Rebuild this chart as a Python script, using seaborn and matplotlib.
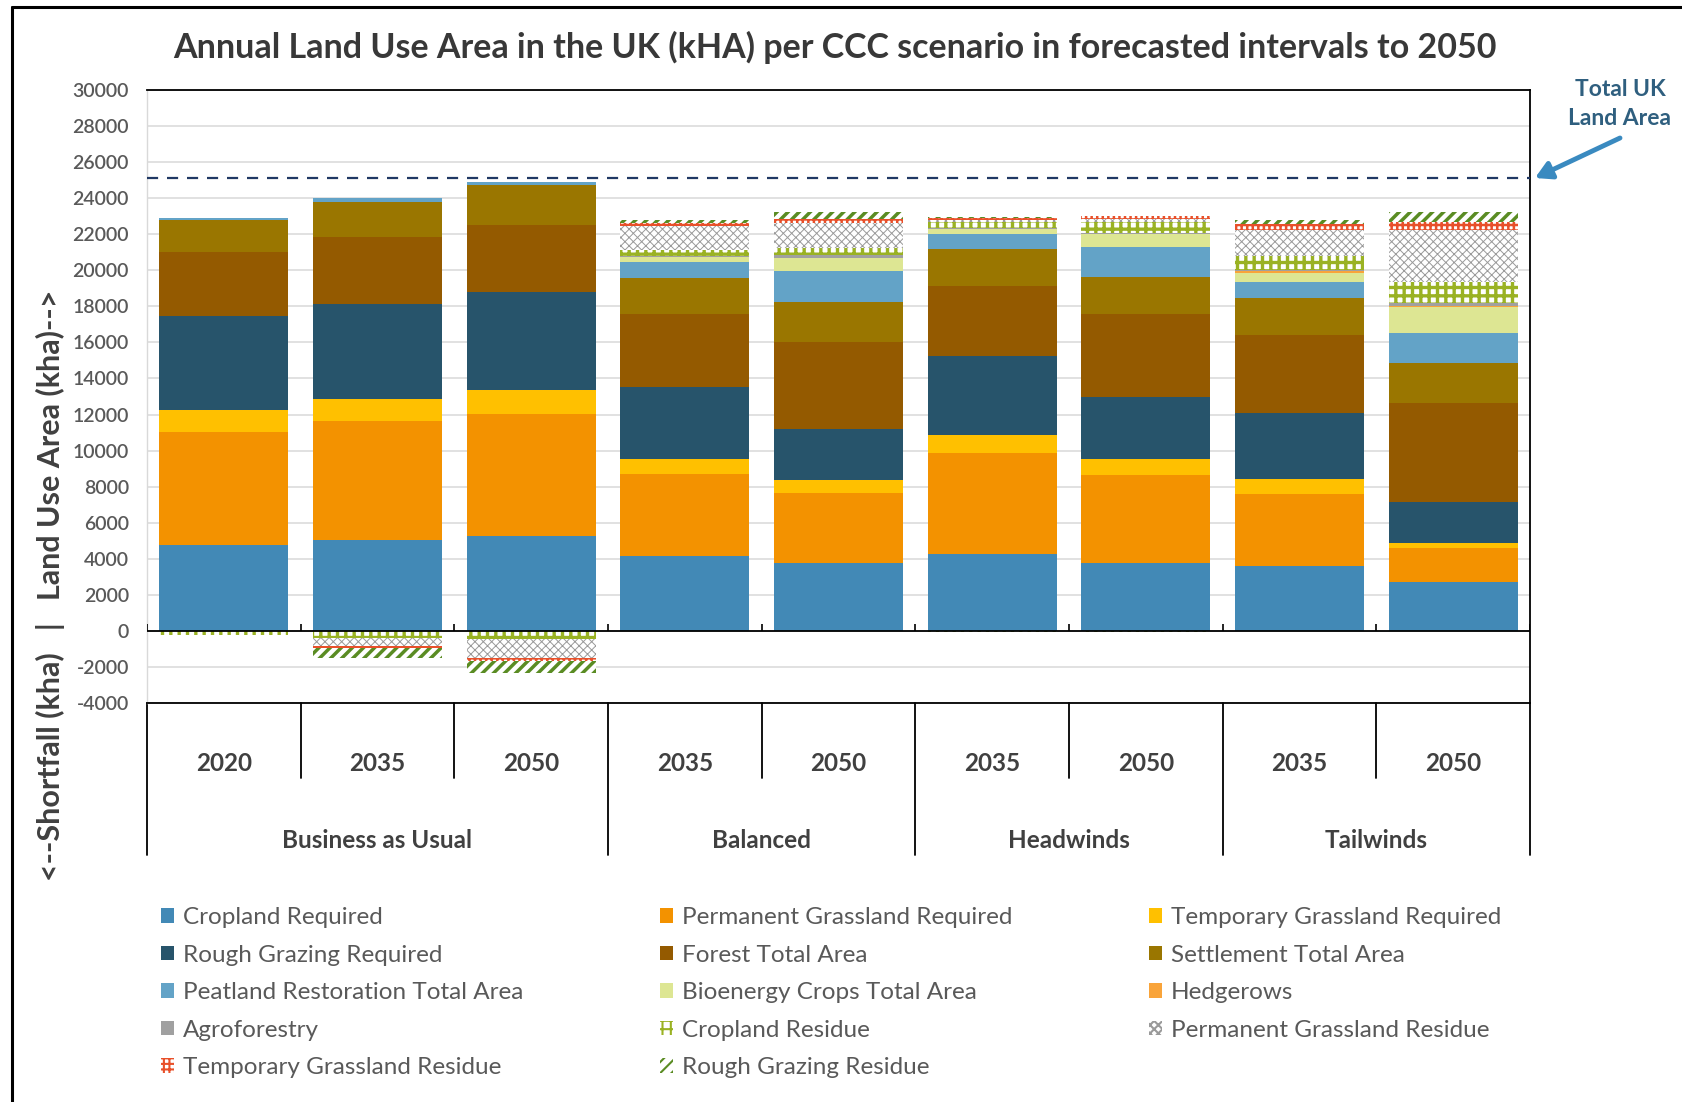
import numpy as np
import pandas as pd
import matplotlib
matplotlib.use("Agg")
import matplotlib.pyplot as plt
import seaborn as sns
from matplotlib.patches import Patch
from matplotlib.lines import Line2D
from matplotlib.transforms import blended_transform_factory

# ---------------- data ----------------
groups = ["Business as Usual"] * 3 + ["Balanced"] * 2 + ["Headwinds"] * 2 + ["Tailwinds"] * 2
years = ["2020", "2035", "2050", "2035", "2050", "2035", "2050", "2035", "2050"]

cropland_required = [4750, 5050, 5250, 4150, 3750, 4250, 3750, 3600, 2700]
perm_grassland_required = [6300, 6600, 6800, 4550, 3900, 5600, 4900, 4000, 1900]
temp_grassland_required = [1200, 1200, 1300, 850, 700, 1000, 900, 800, 300]
rough_grazing_required = [5200, 5300, 5450, 3950, 2850, 4400, 3400, 3700, 2250]
forest_total = [3550, 3700, 3700, 4050, 4800, 3900, 4600, 4300, 5500]
settlement_total = [1800, 1950, 2250, 2000, 2250, 2050, 2100, 2050, 2200]
peatland_restoration = [100, 230, 120, 930, 1700, 800, 1620, 910, 1670]
bioenergy_crops = [0, 0, 0, 260, 710, 280, 730, 500, 1420]
hedgerows = [0, 0, 0, 0, 0, 0, 0, 90, 90]
agroforestry = [0, 0, 0, 40, 180, 90, 90, 40, 180]
cropland_residue = [-240, -370, -460, 350, 370, 330, 610, 830, 1150]
perm_grassland_residue = [0, -460, -1050, 1300, 1390, 80, 150, 1430, 2870]
temp_grassland_residue = [0, -130, -150, 180, 240, 100, 180, 330, 460]
rough_grazing_residue = [0, -520, -700, 190, 380, 60, 0, 220, 530]
cropland_residue_shortfall_extra = [0, 0, 0, 0, 0, -60, -80, 0, 0]

total_uk_land_area = 25100

y_ticks = list(range(-4000, 30001, 2000))

# ---------------- style ----------------
sns.set_theme(style="white")
plt.rcParams["font.family"] = ["Lato", "DejaVu Sans"]
plt.rcParams["hatch.linewidth"] = 1.5

series = [
    ("Cropland Required", cropland_required, "#4289b6", None, None, 0),
    ("Permanent Grassland Required", perm_grassland_required, "#f39200", None, None, 0),
    ("Temporary Grassland Required", temp_grassland_required, "#ffc000", None, None, 0),
    ("Rough Grazing Required", rough_grazing_required, "#27546b", None, None, 0),
    ("Forest Total Area", forest_total, "#945a00", None, None, 0),
    ("Settlement Total Area", settlement_total, "#9a7600", None, None, 0),
    ("Peatland Restoration Total Area", peatland_restoration, "#63a3c7", None, None, 0),
    ("Bioenergy Crops Total Area", bioenergy_crops, "#dde693", None, None, 0),
    ("Hedgerows", hedgerows, "#f9a43a", None, None, 0),
    ("Agroforestry", agroforestry, "#a0a0a0", None, None, 0),
    ("Cropland Residue", cropland_residue, "white", "++", "#9ab223", 2.4),
    ("Permanent Grassland Residue", perm_grassland_residue, "white", "xxxx", "#9a9a9a", 0.7),
    ("Temporary Grassland Residue", temp_grassland_residue, "white", "+++", "#e8502a", 1.8),
    ("Rough Grazing Residue", rough_grazing_residue, "white", "///", "#5a8c23", 2.5),
]

keys = [f"{g} {y}" for g, y in zip(groups, years)]
n = len(keys)

fig = plt.figure(figsize=(16.83, 11.02), dpi=100)
ax = fig.add_axes([147 / 1683, 1 - 703 / 1102, (1530 - 147) / 1683, (703 - 90) / 1102])

# positive stack and negative stack cumulative values
vals = np.array([s[1] for s in series], dtype=float)
extra = np.array(cropland_residue_shortfall_extra, dtype=float)
pos = np.clip(vals, 0, None)
neg = np.clip(vals, None, 0)
neg[10] = neg[10] + extra
cum_pos = np.cumsum(pos, axis=0)
cum_neg = np.cumsum(neg, axis=0)


def draw(values, spec):
    name, _, color, hatch, hcolor, hlw = spec
    df = pd.DataFrame({"cat": keys, "val": values})
    before = len(ax.patches)
    kw = dict(data=df, x="cat", y="val", order=keys, color=color, saturation=1,
              width=0.84, errorbar=None, ax=ax, linewidth=0)
    if hatch:
        with plt.rc_context({"hatch.linewidth": hlw}):
            sns.barplot(**kw, hatch=hatch, edgecolor=hcolor)
    else:
        sns.barplot(**kw, edgecolor=color)
    if hatch:
        for p in ax.patches[before:]:
            if hasattr(p, "set_hatch_linewidth"):
                p.set_hatch_linewidth(hlw)


for k in reversed(range(len(series))):
    draw(cum_pos[k], series[k])
for k in reversed(range(len(series))):
    if np.any(cum_neg[k] != 0):
        draw(cum_neg[k], series[k])

# ---------------- axes styling ----------------
ax.set_xlim(-0.5, n - 0.5)
ax.set_ylim(-4000, 30000)
ax.set_yticks(y_ticks)
ax.set_yticklabels([str(t) for t in y_ticks], color="#595959", fontsize=14, fontweight="semibold")
ax.tick_params(axis="y", length=0, pad=13)
ax.set_xticks([])
ax.set_xlabel("")
ax.set_ylabel("")
ax.grid(axis="y", color="#d9d9d9", lw=1.1, zorder=0)
ax.set_axisbelow(True)
for s in ["top", "right", "bottom"]:
    ax.spines[s].set_color("black")
    ax.spines[s].set_linewidth(1.3)
ax.spines["left"].set_color("#d9d9d9")
ax.spines["left"].set_linewidth(1.0)

ax.axhline(0, color="black", lw=1.3, zorder=5)
ax.vlines(np.arange(-0.5, n, 1.0), 0, 380, color="black", lw=1.2, zorder=5)
ax.axhline(total_uk_land_area, color="#203864", lw=1.6, ls=(0, (5, 4)), zorder=6)

# multi-level category axis
tr = blended_transform_factory(ax.transData, ax.transAxes)
group_bounds = [-0.5, 2.5, 4.5, 6.5, 8.5]
inner_bounds = [0.5, 1.5, 3.5, 5.5, 7.5]
for b in group_bounds:
    ax.add_line(Line2D([b, b], [0, -0.248], transform=tr, color="black", lw=1.3, clip_on=False))
for b in inner_bounds:
    ax.add_line(Line2D([b, b], [0, -0.1223], transform=tr, color="black", lw=1.3, clip_on=False))
for i, y in enumerate(years):
    ax.text(i, -0.099, y, transform=tr, ha="center", va="center", fontsize=17.5,
            fontweight="bold", color="#404040")
group_names = ["Business as Usual", "Balanced", "Headwinds", "Tailwinds"]
for gi, gname in enumerate(group_names):
    c = (group_bounds[gi] + group_bounds[gi + 1]) / 2
    ax.text(c, -0.224, gname, transform=tr, ha="center", va="center", fontsize=17.5,
            fontweight="bold", color="#404040")

# ---------------- texts ----------------
fig.text(835 / 1683, 1 - 47 / 1102,
         "Annual Land Use Area in the UK (kHA) per CCC scenario in forecasted intervals to 2050",
         ha="center", va="center", fontsize=24.5, fontweight="bold", color="#383838")
fig.text(50 / 1683, 1 - 585 / 1102,
         "<--Shortfall (kha)   |   Land Use Area (kha)-->",
         rotation=90, ha="center", va="center", fontsize=22, fontweight="bold", color="#404040")
fig.text(1620 / 1683, 1 - 104 / 1102, "Total UK\nLand Area", ha="center", va="center",
         fontsize=16.5, fontweight="bold", color="#2f5f7f", linespacing=1.5)
ax.annotate("", xy=(1535 / 1683, 1 - 178 / 1102), xycoords="figure fraction",
            xytext=(1620 / 1683, 1 - 138 / 1102), textcoords="figure fraction",
            arrowprops=dict(arrowstyle="-|>,head_length=0.8,head_width=0.45",
                            color="#3a8ac0", lw=3.5, shrinkA=0, shrinkB=0))

# figure frame (left and top)
fig.add_artist(Line2D([12 / 1683, 12 / 1683], [0, 1 - 7 / 1102], color="black", lw=2.2))
fig.add_artist(Line2D([12 / 1683, 1], [1 - 7 / 1102, 1 - 7 / 1102], color="black", lw=2.2))

# ---------------- legend ----------------
handles = []
for name, _, color, hatch, hcolor, hlw in series:
    if hatch:
        h = Patch(facecolor="white", edgecolor=hcolor, hatch=hatch, linewidth=0, label=name)
        if hasattr(h, "set_hatch_linewidth"):
            h.set_hatch_linewidth(hlw)
    else:
        h = Patch(facecolor=color, edgecolor=color, linewidth=0, label=name)
    handles.append(h)

ncol = 3
rows = 5
idx = list(range(len(series)))
grid = [idx[r * ncol:(r + 1) * ncol] for r in range(rows)]
col_major = []
for c in range(ncol):
    for r in range(rows):
        if c < len(grid[r]):
            col_major.append(grid[r][c])
leg = fig.legend([handles[i] for i in col_major], [series[i][0] for i in col_major],
                 ncol=3, loc="upper left", bbox_to_anchor=(161 / 1683, 1 - 907 / 1102),
                 frameon=False, fontsize=17.5, handlelength=0.55, handleheight=0.55,
                 handletextpad=0.35, columnspacing=5.62, labelspacing=0.68,
                 borderaxespad=0, borderpad=0)
for t in leg.get_texts():
    t.set_color("#595959")

fig.savefig("out.png", dpi=100, facecolor="white")
